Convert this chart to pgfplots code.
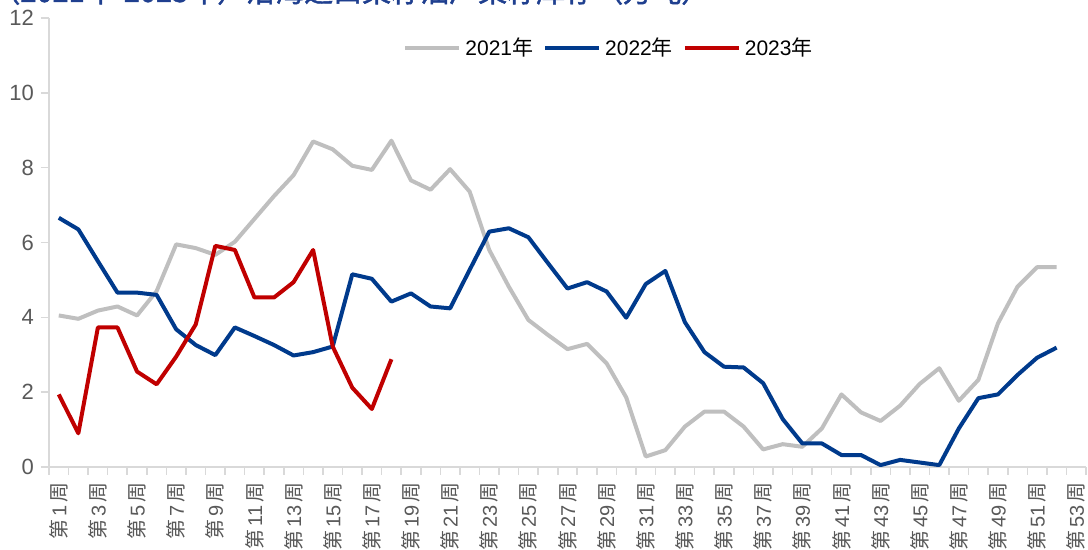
\documentclass[border=0pt]{standalone}
\usepackage{fontspec}
\setmainfont{Liberation Sans}
\newfontfamily\cjk{Noto Sans CJK SC}
\newfontfamily\cjkb[FakeBold=1.6]{Noto Sans CJK SC}
\usepackage{pgfplots}
\pgfplotsset{compat=1.18}

\definecolor{c21}{HTML}{BFBFBF}
\definecolor{c22}{HTML}{003A8C}
\definecolor{c23}{HTML}{C00000}
\definecolor{axgray}{HTML}{D9D9D9}
\definecolor{txtgray}{HTML}{595959}
\definecolor{ttl}{HTML}{1F3F8F}

\newcommand\wk[1]{{\cjk 第}\,#1\,{\cjk 周}}

\begin{document}
\begin{tikzpicture}
\begin{axis}[
  width=518.5pt, height=224.5pt, scale only axis,
  xmin=0.5, xmax=53.5, ymin=0, ymax=12,
  axis x line*=bottom, axis y line*=left,
  axis line style={axgray, line width=1pt},
  tick style={axgray, line width=0.8pt},
  tick align=outside, major tick length=4pt,
  ytick={0,2,...,12},
  xtick={0.5,1.5,...,53.5}, xticklabels={},
  extra x ticks={1,3,...,53},
  extra x tick labels={\wk{1},\wk{3},\wk{5},\wk{7},\wk{9},\wk{11},\wk{13},\wk{15},\wk{17},\wk{19},\wk{21},\wk{23},\wk{25},\wk{27},\wk{29},\wk{31},\wk{33},\wk{35},\wk{37},\wk{39},\wk{41},\wk{43},\wk{45},\wk{47},\wk{49},\wk{51},\wk{53}},
  extra x tick style={major tick length=0pt,
    tick label style={yshift=-4pt, rotate=90, anchor=east, font=\fontsize{10}{12}\selectfont, text=txtgray}},
  y tick label style={font=\fontsize{11}{13}\selectfont, text=txtgray},
  /pgf/number format/assume math mode=true,
  legend columns=3,
  legend style={draw=none, fill=none, at={(0.541,0.933)}, anchor=center,
    font=\fontsize{10.5}{12}\selectfont,
    /tikz/every even column/.append style={column sep=3pt}},
  legend image code/.code={\draw[#1] (0pt,0pt) -- (27pt,0pt);},
  every axis plot/.append style={line width=2pt, line join=round},
]
\coordinate (ll) at (rel axis cs:0,0);
\coordinate (ur) at (rel axis cs:1,1);

\addplot[c21] coordinates {
(1,4.05) (2,3.96) (3,4.18) (4,4.29) (5,4.05) (6,4.70) (7,5.95) (8,5.85) (9,5.67) (10,6.02)
(11,6.63) (12,7.24) (13,7.80) (14,8.70) (15,8.49) (16,8.05) (17,7.94) (18,8.72) (19,7.66) (20,7.41)
(21,7.96) (22,7.36) (23,5.80) (24,4.82) (25,3.93) (26,3.53) (27,3.15) (28,3.29) (29,2.77) (30,1.86)
(31,0.28) (32,0.45) (33,1.08) (34,1.48) (35,1.48) (36,1.08) (37,0.47) (38,0.61) (39,0.54) (40,1.03)
(41,1.94) (42,1.46) (43,1.23) (44,1.64) (45,2.22) (46,2.64) (47,1.77) (48,2.33) (49,3.84) (50,4.82)
(51,5.34) (52,5.34)
};
\addlegendentry{2021{\cjk 年}}

\addplot[c22] coordinates {
(1,6.66) (2,6.35) (3,5.50) (4,4.66) (5,4.66) (6,4.60) (7,3.68) (8,3.26) (9,2.99) (10,3.73)
(11,3.50) (12,3.26) (13,2.98) (14,3.07) (15,3.22) (16,5.15) (17,5.03) (18,4.42) (19,4.64) (20,4.29)
(21,4.24) (22,5.27) (23,6.29) (24,6.38) (25,6.14) (26,5.45) (27,4.77) (28,4.94) (29,4.69) (30,3.99)
(31,4.89) (32,5.24) (33,3.87) (34,3.07) (35,2.68) (36,2.66) (37,2.24) (38,1.28) (39,0.63) (40,0.63)
(41,0.32) (42,0.32) (43,0.05) (44,0.19) (45,0.12) (46,0.05) (47,1.03) (48,1.84) (49,1.94) (50,2.46)
(51,2.92) (52,3.19)
};
\addlegendentry{2022{\cjk 年}}

\addplot[c23] coordinates {
(1,1.94) (2,0.90) (3,3.73) (4,3.73) (5,2.55) (6,2.21) (7,2.95) (8,3.81) (9,5.91) (10,5.80)
(11,4.53) (12,4.53) (13,4.94) (14,5.80) (15,3.22) (16,2.12) (17,1.55) (18,2.88)
};
\addlegendentry{2023{\cjk 年}}
\end{axis}

\node[anchor=base west, inner sep=0pt, text=ttl,
  font=\cjkb\fontsize{14.5}{16}\selectfont]
  at ([xshift=-29pt, yshift=8pt]ll |- ur) {（2021年-2023年）沿海进口菜籽油厂菜籽库存（万吨）};

\pgfresetboundingbox
\path[use as bounding box] ([xshift=-24.5pt, yshift=-41.5pt]ll) rectangle ([xshift=1pt, yshift=9pt]ur);
\end{tikzpicture}
\end{document}
